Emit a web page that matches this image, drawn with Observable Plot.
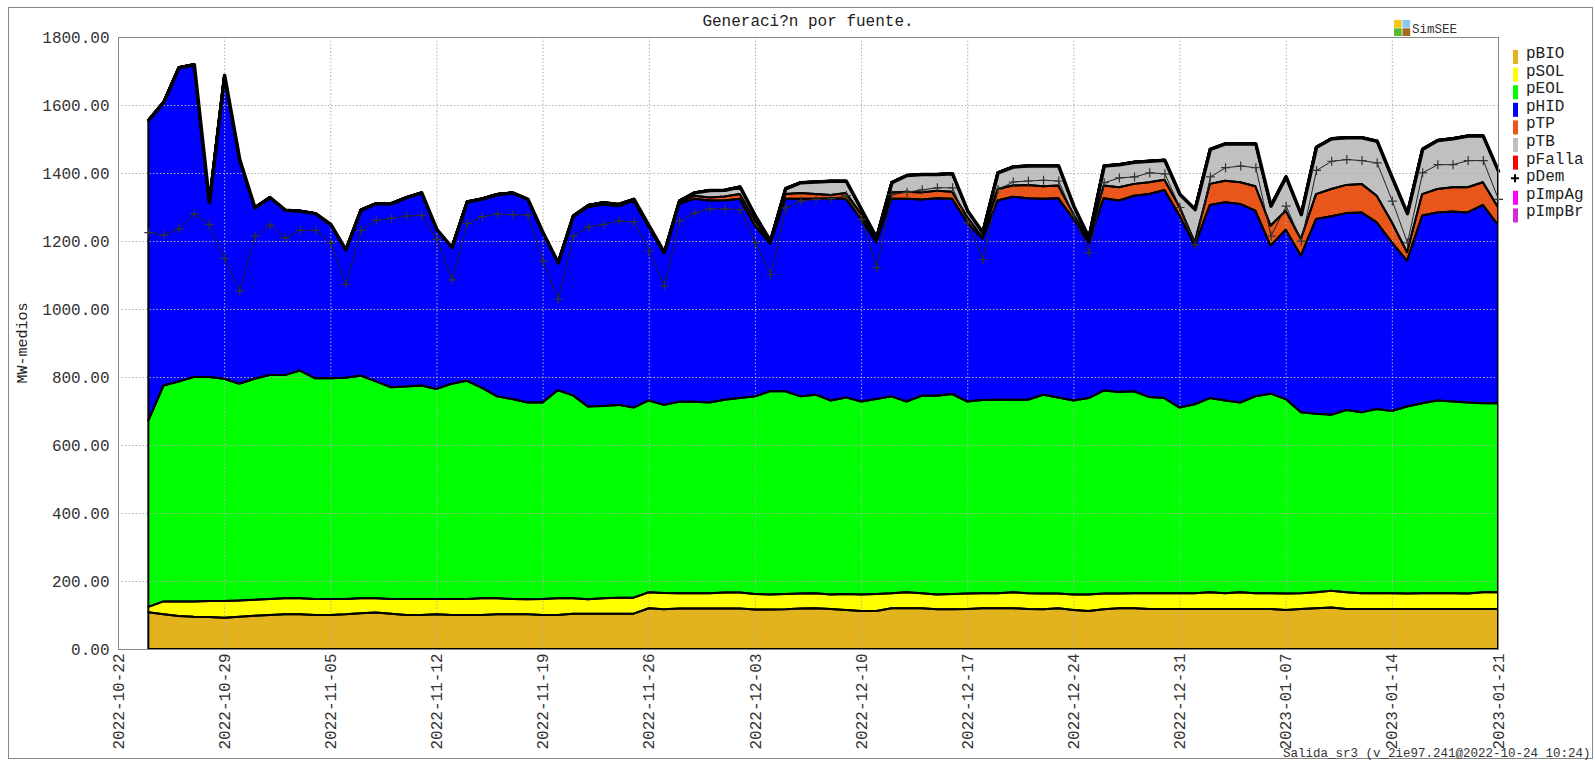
<!DOCTYPE html>
<html>
<head>
<meta charset="utf-8">
<script src="https://cdn.jsdelivr.net/npm/d3@7"></script>
<script src="https://cdn.jsdelivr.net/npm/@observablehq/plot@0.6"></script>
<style>
  body { margin: 0; background: #fff; }
  #chart { position: relative; width: 1595px; height: 761px; }
</style>
</head>
<body>
<div id="chart"></div>
<script>
// ---------- DATA (daily values, MW-medios, from 2022-10-24 to 2023-01-21) ----------
const firstDay = "2022-10-24";

const pBIO = [108,102,97,95,94,92,95,98,100,102,102,100,100,102,105,107,104,100,100,102,100,100,100,102,102,102,100,100,
  104,104,104,104,104,120,117,119,119,119,119,119,116,116,117,119,120,118,115,112,112,120,120,120,117,117,118,120,
  120,120,118,117,120,115,112,117,120,120,118,118,118,118,118,118,118,118,118,115,118,120,122,118,118,118,118,118,
  118,118,118,118,118,118];
const pSOL = [16,38,43,45,47,49,48,47,47,47,47,47,47,45,44,42,43,47,47,45,47,47,49,47,45,44,47,49,
  45,42,45,47,47,47,48,45,45,45,47,47,46,44,45,44,44,42,47,48,50,44,47,44,43,45,45,44,
  44,47,46,46,43,45,48,46,43,44,46,46,46,46,49,46,49,46,46,48,46,47,49,49,46,46,46,45,
  46,46,46,45,49,49];
const pEOL = [548,635,647,660,659,654,637,650,659,657,670,649,649,651,655,638,623,625,628,618,633,642,619,594,588,579,578,612,
  597,567,566,567,559,564,553,563,563,561,567,572,581,598,596,580,584,571,578,568,573,579,561,581,585,588,565,568,
  569,566,569,585,577,571,578,597,593,594,577,574,546,556,571,567,558,579,587,572,532,525,518,536,532,542,536,550,
  559,567,564,562,556,556];
const pHID = [884,835,924,920,514,893,660,504,523,486,470,486,454,377,488,524,541,557,568,470,402,527,557,595,608,599,501,376,
  524,587,592,584,608,509,445,582,597,594,586,586,502,433,566,581,576,595,584,537,461,581,596,577,581,574,527,474,
  586,597,593,576,586,534,458,566,563,575,597,612,565,466,568,583,584,546,435,498,461,573,584,579,588,549,496,429,
  552,553,559,559,583,524];
const pTP = [0,0,0,0,0,0,0,0,0,0,0,0,0,0,0,0,0,0,0,0,0,0,0,0,0,0,0,0,
  2,2,2,2,2,2,2,5,9,9,12,14,15,5,14,17,14,9,17,15,8,19,21,21,22,21,15,5,
  34,33,39,37,37,14,8,37,39,35,35,30,25,10,62,63,64,72,59,56,49,73,80,83,84,78,59,25,
  63,69,71,74,67,52];
const pTB = [0,0,0,0,0,0,0,0,0,0,0,0,0,0,0,0,0,0,0,0,0,0,0,0,0,0,0,0,
  3,4,5,5,4,3,2,5,10,22,20,22,15,5,17,32,37,42,36,14,7,30,49,54,49,54,20,15,
  49,56,57,61,59,25,7,59,68,65,63,59,38,98,103,110,114,126,59,101,73,139,149,140,137,162,132,115,
  133,144,144,152,137,108];
const pFalla = [0,0,0,0,0,0,0,0,0,0,0,0,0,0,0,0,0,0,0,0,0,0,0,0,0,0,0,0,0,0,0,0,0,0,0,0,0,0,0,0,0,0,0,0,0,
  0,0,0,0,0,0,0,0,0,0,0,0,0,0,0,0,0,0,0,0,0,0,0,0,0,0,0,0,0,0,0,0,0,0,0,0,0,0,0,0,0,0,0,0,0];
const pImpAg = [0,0,0,0,0,0,0,0,0,0,0,0,0,0,0,0,0,0,0,0,0,0,0,0,0,0,0,0,0,0,0,0,0,0,0,0,0,0,0,0,0,0,0,0,0,
  0,0,0,0,0,0,0,0,0,0,0,0,0,0,0,0,0,0,0,0,0,0,0,0,0,0,0,0,0,0,0,0,0,0,0,0,0,0,0,0,0,0,0,0,0];
const pImpBr = [0,0,0,0,0,0,0,0,0,0,0,0,0,0,0,0,0,0,0,0,0,0,0,0,0,0,0,0,0,0,0,0,0,0,0,0,0,0,0,0,0,0,0,0,0,
  0,0,0,0,0,0,0,0,0,0,0,0,0,0,0,0,0,0,0,0,0,0,0,0,0,0,0,0,0,0,0,0,0,0,0,0,0,0,0,0,0,0,0,0,0];
const pDem = [1226,1219,1237,1282,1250,1150,1054,1215,1248,1210,1233,1233,1195,1074,1233,1262,1268,1275,1277,1206,1087,1253,1273,1281,1279,1277,1142,1030,
  1216,1243,1250,1260,1258,1172,1069,1260,1284,1296,1296,1294,1196,1103,1299,1319,1324,1326,1335,1265,1123,1338,1345,1352,1358,1358,1255,1147,
  1353,1375,1378,1380,1378,1275,1167,1373,1387,1390,1402,1399,1300,1190,1390,1417,1422,1417,1216,1304,1201,1409,1436,1441,1438,1431,1319,1196,
  1402,1426,1426,1438,1438,1324];

const seriesNames  = ["pBIO","pSOL","pEOL","pHID","pTP","pTB","pFalla","pImpAg","pImpBr"];
const seriesColors = ["#e2b31c","#ffff00","#00ff00","#0000ff","#e8561c","#c0c0c0","#ff0000","#ff00ff","#d826d8"];

const legendNames  = ["pBIO","pSOL","pEOL","pHID","pTP","pTB","pFalla","pDem","pImpAg","pImpBr"];
const legendColors = ["#e2b31c","#ffff00","#00ff00","#0000ff","#e8561c","#c0c0c0","#ff0000","#000000","#ff00ff","#d826d8"];

const xTickLabels = ["2022-10-22","2022-10-29","2022-11-05","2022-11-12","2022-11-19","2022-11-26","2022-12-03",
  "2022-12-10","2022-12-17","2022-12-24","2022-12-31","2023-01-07","2023-01-14","2023-01-21"];
const yTicks = [0,200,400,600,800,1000,1200,1400,1600,1800];

const titleText  = "Generaci?n por fuente.";
const yLabelText = "MW-medios";
const footerText = "Salida_sr3 (v_2ie97.241@2022-10-24 10:24)";
const logoText   = "SimSEE";
const logoColors = ["#f5c518","#8cc8f0","#5cb82c","#a36a1c"];

// ---------- BUILD TABLES ----------
const start = new Date(firstDay);
const dates = pDem.map((_, i) => d3.utcDay.offset(start, i));
const seriesValues = [pBIO,pSOL,pEOL,pHID,pTP,pTB,pFalla,pImpAg,pImpBr];
const long = [];
seriesNames.forEach((s, k) => dates.forEach((d, i) => long.push({date: d, series: s, value: seriesValues[k][i]})));
const demRows = dates.map((d, i) => ({date: d, value: pDem[i]}));
const tickDates = xTickLabels.map(s => new Date(s));

const FONT = "'Liberation Mono', 'DejaVu Sans Mono', monospace";

const plot = Plot.plot({
  width: 1595, height: 761,
  marginLeft: 118, marginRight: 97, marginTop: 37, marginBottom: 112,
  style: {fontFamily: FONT, fontSize: "16px", background: "transparent", color: "#333"},
  x: {type: "utc", domain: [tickDates[0], tickDates[tickDates.length - 1]], label: null},
  y: {domain: [0, 1800], label: null},
  color: {domain: seriesNames, range: seriesColors},
  marks: [
    Plot.areaY(long, {x: "date", y: "value", z: "series", fill: "series", order: seriesNames}),
    Plot.gridX(tickDates, {stroke: "#b0b0b0", strokeOpacity: 1, strokeDasharray: "1.5,2"}),
    Plot.gridY(yTicks, {stroke: "#b0b0b0", strokeOpacity: 1, strokeDasharray: "1.5,2"}),
    Plot.areaY(long, {x: "date", y: "value", z: "series", order: seriesNames, fill: "none",
      stroke: "#000", strokeWidth: 2, strokeLinejoin: "round"}),
    Plot.lineY(long, Plot.groupX({y: "sum"}, {x: "date", y: "value", stroke: "#000", strokeWidth: 3.5, strokeLinejoin: "round"})),
    Plot.line(demRows, {x: "date", y: "value", stroke: "#222", strokeWidth: 1}),
    Plot.dot(demRows, {x: "date", y: "value", symbol: "plus", r: 3, stroke: "#333", strokeWidth: 1.2}),
    Plot.frame({stroke: "#888"}),
    Plot.axisX({ticks: tickDates, tickFormat: d3.utcFormat("%Y-%m-%d"), tickRotate: -90, tickSize: 0,
      tickPadding: 4, fontSize: 16, label: null}),
    Plot.axisY({ticks: yTicks, tickFormat: d3.format(".2f"), tickSize: 0, tickPadding: 9, fontSize: 16, label: null})
  ]
});
document.getElementById("chart").appendChild(plot);

// ---------- DECORATIONS (title, legend, labels) ----------
const svg = d3.select(plot);
svg.append("rect").attr("x", 8.5).attr("y", 7.5).attr("width", 1584).attr("height", 751)
  .attr("fill", "none").attr("stroke", "#888");

svg.append("text").attr("x", 808).attr("y", 26).attr("text-anchor", "middle")
  .attr("font-family", FONT).attr("font-size", 16).attr("fill", "#222").text(titleText);

svg.append("text").attr("transform", "translate(27,343) rotate(-90)").attr("text-anchor", "middle")
  .attr("font-family", FONT).attr("font-size", 15).attr("fill", "#222").text(yLabelText);

const lg = svg.append("g");
legendNames.forEach((name, i) => {
  const base = 58 + i * 17.6;
  if (name === "pDem") {
    lg.append("path").attr("d", `M${1515 - 4},${base - 3}H${1515 + 4}M1515,${base - 7}V${base + 1}`)
      .attr("stroke", "#000").attr("stroke-width", 2);
  } else {
    lg.append("rect").attr("x", 1513).attr("y", base - 8).attr("width", 5).attr("height", 14)
      .attr("fill", legendColors[i]);
  }
  lg.append("text").attr("x", 1526).attr("y", base).attr("text-anchor", "start")
    .attr("font-family", FONT).attr("font-size", 16).attr("fill", "#222").text(name);
});

const logo = svg.append("g");
[[1394, 20], [1402.5, 20], [1394, 28.3], [1402.5, 28.3]].forEach((p, i) => {
  logo.append("rect").attr("x", p[0]).attr("y", p[1]).attr("width", 7.7).attr("height", 7.7).attr("fill", logoColors[i]);
});
logo.append("text").attr("x", 1412).attr("y", 33).attr("text-anchor", "start")
  .attr("font-family", FONT).attr("font-size", 12.5).attr("fill", "#333").text(logoText);

svg.append("text").attr("x", 1283).attr("y", 757).attr("text-anchor", "start")
  .attr("font-family", FONT).attr("font-size", 12.5).attr("fill", "#333").text(footerText);
</script>
</body>
</html>
